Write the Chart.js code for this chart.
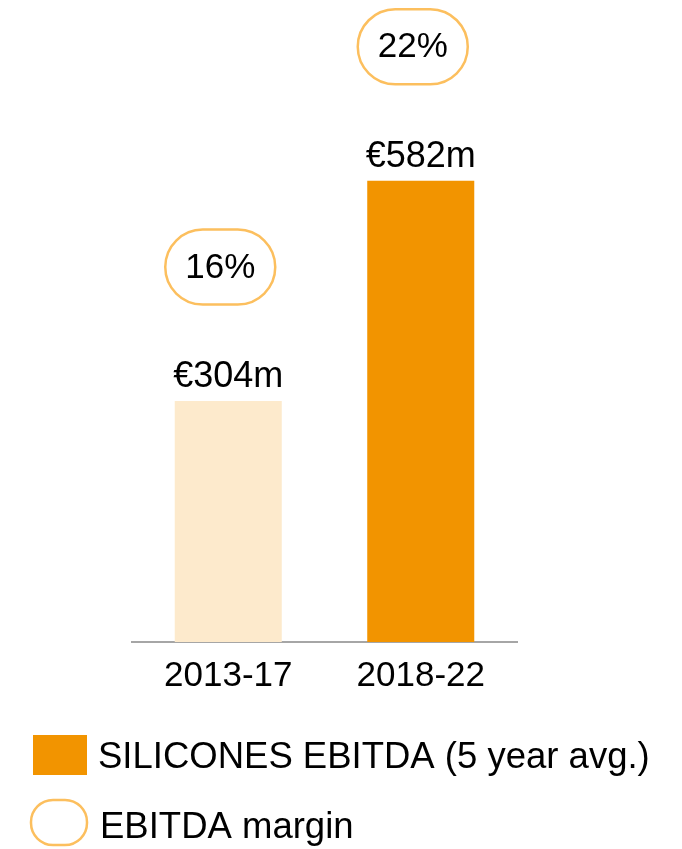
<!DOCTYPE html>
<html>
<head>
<meta charset="utf-8">
<script src="https://cdn.jsdelivr.net/npm/chart.js@4"></script>
<style>
  html, body { margin:0; padding:0; background:#fff; }
  #wrap { width:682px; height:849px; }
</style>
</head>
<body>
<div id="wrap"><canvas id="myBarChart" width="682" height="849"></canvas></div>
<script>
const categories = ["2013-17", "2018-22"];
const ebitda = [304, 582];
const margins = [16, 22];
const barColors = ["#FDEACC", "#F29400"];
const legendLabels = ["SILICONES EBITDA (5 year avg.)", "EBITDA margin"];

const FONT = "'Liberation Sans', Arial, sans-serif";
const pillColor = "#FCBF5E";

function roundRect(ctx, x, y, w, h, r){
  ctx.beginPath();
  ctx.moveTo(x + r, y);
  ctx.lineTo(x + w - r, y);
  ctx.arc(x + w - r, y + r, r, -Math.PI/2, 0);
  ctx.lineTo(x + w, y + h - r);
  ctx.arc(x + w - r, y + h - r, r, 0, Math.PI/2);
  ctx.lineTo(x + r, y + h);
  ctx.arc(x + r, y + h - r, r, Math.PI/2, Math.PI);
  ctx.lineTo(x, y + r);
  ctx.arc(x + r, y + r, r, Math.PI, Math.PI*1.5);
  ctx.closePath();
}

// value labels, margin pills and the legend
const labelsPlugin = {
  id: "labels",
  afterDatasetsDraw(chart){
    const ctx = chart.ctx;
    const meta = chart.getDatasetMeta(0);
    ctx.save();
    meta.data.forEach((bar, i) => {
      ctx.fillStyle = "#000";
      ctx.font = "36px " + FONT;
      ctx.textAlign = "center";
      ctx.textBaseline = "alphabetic";
      ctx.fillText("€" + ebitda[i] + "m", bar.x, bar.y - 14);

      const cx = bar.x - 8, cy = bar.y - 134;
      const w = 110, h = 75;
      roundRect(ctx, cx - w/2, cy - h/2, w, h, h/2);
      ctx.lineWidth = 2.5;
      ctx.strokeStyle = pillColor;
      ctx.stroke();
      ctx.fillStyle = "#000";
      ctx.font = "35px " + FONT;
      ctx.textBaseline = "middle";
      ctx.fillText(margins[i] + "%", cx, cy + 1);
    });

    // legend
    ctx.fillStyle = barColors[1];
    ctx.fillRect(33, 735, 54, 40);
    roundRect(ctx, 31, 800, 56, 45, 22);
    ctx.lineWidth = 2.5;
    ctx.strokeStyle = pillColor;
    ctx.stroke();
    ctx.fillStyle = "#000";
    ctx.font = "36.5px " + FONT;
    ctx.textAlign = "left";
    ctx.textBaseline = "middle";
    ctx.fillText(legendLabels[0], 98, 758);
    ctx.fillText(legendLabels[1], 100, 828);
    ctx.restore();
  }
};

const ctx = document.getElementById("myBarChart");
const myBarChart = new Chart(ctx, {
  type: "bar",
  data: {
    labels: categories,
    datasets: [{
      label: legendLabels[0],
      data: ebitda,
      backgroundColor: barColors,
      barPercentage: 0.556,
      categoryPercentage: 1.0
    }]
  },
  options: {
    responsive: false,
    animation: false,
    devicePixelRatio: 1,
    layout: { padding: { top: 8, left: 132, right: 165, bottom: 147 } },
    plugins: { legend: { display: false }, tooltip: { enabled: false } },
    scales: {
      y: { display: false, min: 0, max: 800 },
      x: {
        grid: { display: false, drawTicks: false },
        border: { display: true, color: "#A6A6A6", width: 2 },
        ticks: { color: "#000", font: { size: 35, family: FONT }, padding: 13, maxRotation: 0 },
        afterFit(scale){ scale.height = 60; }
      }
    }
  },
  plugins: [labelsPlugin]
});
</script>
</body>
</html>
